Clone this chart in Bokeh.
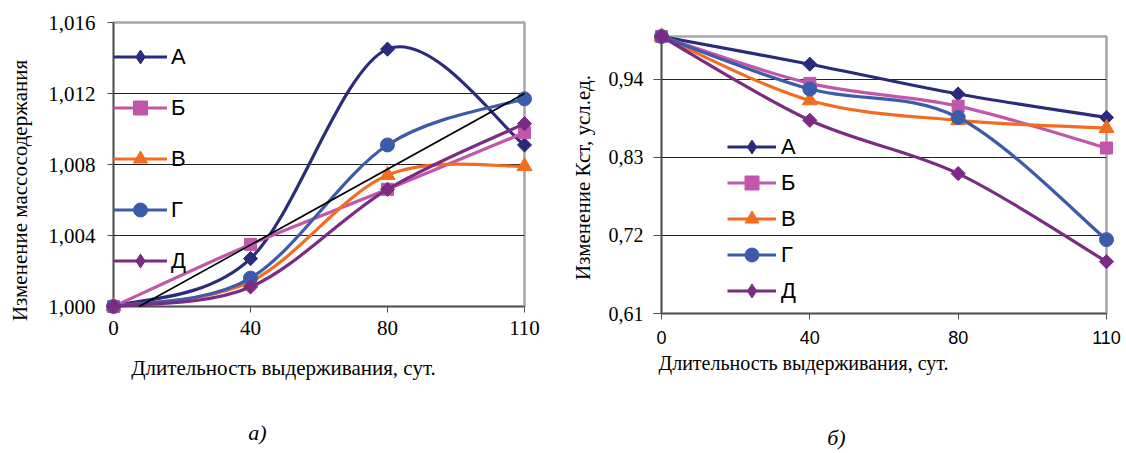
import math
from bokeh.plotting import figure
from bokeh.layouts import row, column
from bokeh.models import Range1d, FixedTicker, Legend, LegendItem
from bokeh.core.properties import value
from bokeh.embed import file_html
from bokeh.resources import INLINE

# ---------------- data ----------------
days = ["0", "40", "80", "110"]
names = ["А", "Б", "В", "Г", "Д"]

# chart а) – change of mass content
mass_A = [1.0000, 1.0027, 1.0145, 1.0091]
mass_B = [1.0000, 1.0035, 1.0066, 1.0098]
mass_V = [1.0000, 1.0014, 1.0074, 1.0079]
mass_G = [1.0000, 1.0016, 1.0091, 1.0117]
mass_D = [1.0000, 1.0011, 1.0066, 1.0103]
trend_a = [0.9992, 1.0120]          # linear trend value at first and last day

# chart б) – change of Kst
kst_A = [1.000, 0.961, 0.919, 0.886]
kst_B = [1.000, 0.934, 0.902, 0.843]
kst_V = [1.000, 0.910, 0.882, 0.871]
kst_G = [1.000, 0.926, 0.886, 0.714]
kst_D = [1.000, 0.882, 0.807, 0.683]

y_ticks_a = [1.000, 1.004, 1.008, 1.012, 1.016]
y_labels_a = ["1,000", "1,004", "1,008", "1,012", "1,016"]
y_ticks_b = [0.61, 0.72, 0.83, 0.94]
y_labels_b = ["0,61", "0,72", "0,83", "0,94"]

colors = ["#2B2B7B", "#C157AA", "#F26C22", "#3C5BAA", "#7C2B82"]
markers = ["diamond", "square", "triangle", "circle", "diamond"]
marker_size = {"diamond": 10, "square": 12, "triangle": 15, "circle": 14}

SERIF = "Liberation Serif"
SANS = "Liberation Sans"
xs = list(range(len(days)))


def smooth(xv, yv):
    """Excel-like smoothed curve as cubic Bezier segments through the points."""
    n = len(xv)
    d = dict(x0=[], y0=[], x1=[], y1=[], cx0=[], cy0=[], cx1=[], cy1=[])
    for i in range(n - 1):
        ip, inx = max(i - 1, 0), min(i + 2, n - 1)
        d["x0"].append(xv[i]); d["y0"].append(yv[i])
        d["x1"].append(xv[i + 1]); d["y1"].append(yv[i + 1])
        d["cx0"].append(xv[i] + (xv[i + 1] - xv[ip]) / 6)
        d["cy0"].append(yv[i] + (yv[i + 1] - yv[ip]) / 6)
        d["cx1"].append(xv[i + 1] - (xv[inx] - xv[i]) / 6)
        d["cy1"].append(yv[i + 1] - (yv[inx] - yv[i]) / 6)
    return d


def make_chart(width, height, yr, borders, yt, yl, grid, series, xlabel_font,
               xlabel_size, ylabel_size, tick_out_y, y_standoff, x_standoff,
               legend_cfg):
    p = figure(width=width, height=height, x_range=Range1d(0, len(days) - 1),
               y_range=yr, output_backend="svg", toolbar_location=None,
               min_border_left=borders[0], min_border_right=borders[1],
               min_border_top=borders[2], min_border_bottom=borders[3])
    fw = width - borders[0] - borders[1]
    fh = height - borders[2] - borders[3]
    # pixel ranges (relative to the frame) for the free text
    p.extra_x_ranges = {"px": Range1d(0, fw)}
    p.extra_y_ranges = {"px": Range1d(0, fh)}
    p.background_fill_color = "white"
    p.border_fill_color = "white"
    p.outline_line_color = "#A6A6A6"
    p.outline_line_width = 2.5
    p.xgrid.visible = False
    p.ygrid.ticker = FixedTicker(ticks=grid)
    p.ygrid.grid_line_color = "#222222"
    p.ygrid.grid_line_width = 1

    ax = p.xaxis[0]
    ax.ticker = FixedTicker(ticks=xs)
    ax.major_label_overrides = {i: d for i, d in zip(xs, days)}
    ax.major_tick_out = 6
    ax.major_tick_in = 0
    ax.minor_tick_out = 0
    ax.axis_line_color = "#4D4D4D"
    ax.axis_line_width = 1.5
    ax.major_tick_line_color = "#4D4D4D"
    ax.major_label_text_font = xlabel_font
    ax.major_label_text_font_size = xlabel_size
    ax.major_label_text_color = "black"
    ax.major_label_standoff = x_standoff

    ay = p.yaxis[0]
    ay.ticker = FixedTicker(ticks=yt)
    ay.major_label_overrides = {t: l for t, l in zip(yt, yl)}
    ay.major_tick_out = tick_out_y
    ay.major_tick_in = 0
    ay.minor_tick_out = 0
    ay.minor_tick_in = 0
    ay.axis_line_color = "#4D4D4D"
    ay.axis_line_width = 1.5
    ay.major_tick_line_color = "#4D4D4D"
    ay.major_label_text_font = SERIF
    ay.major_label_text_font_size = ylabel_size
    ay.major_label_text_color = "black"
    ay.major_label_standoff = y_standoff

    items = []
    for name, ys, col, mk in zip(names, series, colors, markers):
        br = p.bezier(source=smooth(xs, ys), x0="x0", y0="y0", x1="x1", y1="y1",
                      cx0="cx0", cy0="cy0", cx1="cx1", cy1="cy1",
                      line_color=col, line_width=3.2)
        br.level = "overlay"
        if mk == "diamond":
            # legend glyph (kept under the true square diamond drawn on top)
            lr = p.scatter(xs, ys, marker="diamond", size=13, fill_color=col,
                           line_color=col)
            lr.level = "overlay"
            sr = p.scatter(xs, ys, marker="square", angle=math.pi / 4,
                           size=marker_size[mk], fill_color=col, line_color=col)
        else:
            sr = p.scatter(xs, ys, marker=mk, size=marker_size[mk],
                           fill_color=col, line_color=col)
            lr = sr
        sr.level = "overlay"
        items.append(LegendItem(label=name, renderers=[br, lr]))

    lg = Legend(items=items, location=legend_cfg["loc"], orientation="vertical",
                glyph_width=legend_cfg["gw"], glyph_height=35, label_height=35,
                spacing=legend_cfg["sp"], padding=0, margin=0,
                label_standoff=legend_cfg["ls"], label_text_font=SANS,
                label_text_font_size="22px", label_text_color="black",
                border_line_alpha=0, background_fill_alpha=0)
    p.add_layout(lg)
    return p


def free_text(p, x, y, txt, size, angle=0.0, style="normal"):
    r = p.text(x=[x], y=[y], text=[txt], angle=angle, x_range_name="px",
               y_range_name="px", text_font=value(SERIF),
               text_font_size=value(size), text_font_style=style,
               text_align="center", text_baseline="middle", text_color="black")
    r.level = "overlay"


# ---------------- chart а) ----------------
pa = make_chart(560, 453, Range1d(y_ticks_a[0], y_ticks_a[-1]), (113, 36, 22, 147),
                y_ticks_a, y_labels_a, y_ticks_a[1:-1],
                [mass_A, mass_B, mass_V, mass_G, mass_D], SERIF, "21px", "21px",
                6, 12, 8, dict(loc=(0, 28), gw=54, sp=16, ls=4))

# trend line, started where it enters the plotted range
y0 = y_ticks_a[0]
t_start = (y0 - trend_a[0]) / (trend_a[1] - trend_a[0]) * xs[-1]
tr = pa.line([t_start, xs[-1]], [y0, trend_a[1]], line_color="black", line_width=1.6)
tr.level = "overlay"

free_text(pa, -94, 116, "Изменение массосодержания", "21px", angle=math.pi / 2)
free_text(pa, 170, -61, "Длительность выдерживания, сут.", "21px")
free_text(pa, 144, -126, "а)", "22px", style="italic")

# ---------------- chart б) ----------------
pb = make_chart(566, 453, Range1d(y_ticks_b[0], 1.0), (101, 20, 36, 140),
                y_ticks_b, y_labels_b, y_ticks_b[1:],
                [kst_A, kst_B, kst_V, kst_G, kst_D], SANS, "18px", "20px",
                8, 10, 11, dict(loc=(66, 5), gw=49, sp=1, ls=5))

free_text(pb, -79, 136, "Изменение Кст, усл.ед.", "21px", angle=math.pi / 2)
free_text(pb, 142, -49, "Длительность выдерживания, сут.", "20px")
free_text(pb, 175, -124, "б)", "22px", style="italic")

layout = row(column(pa), column(pb), spacing=0)
open("out.html", "w").write(file_html(layout, INLINE))
